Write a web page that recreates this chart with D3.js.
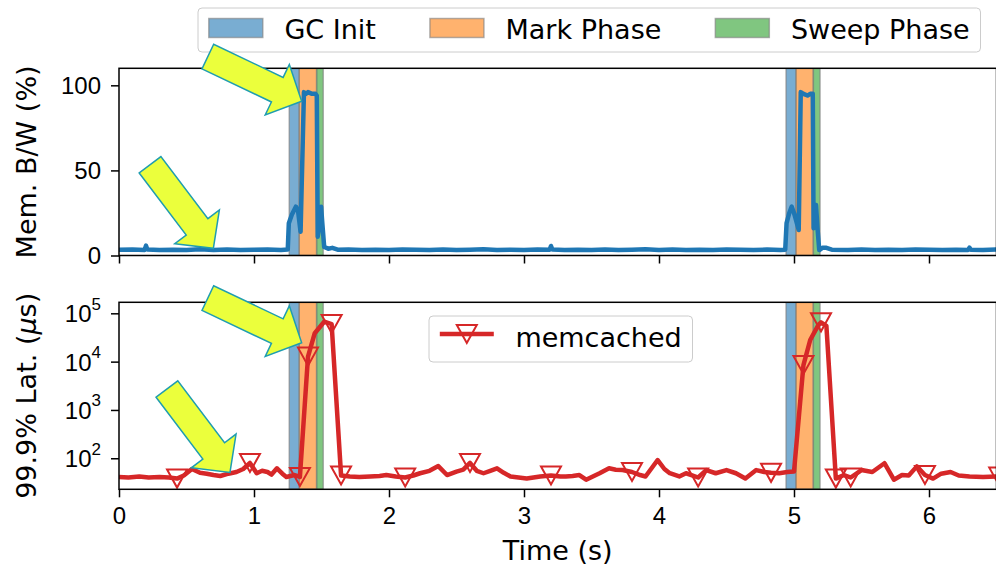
<!DOCTYPE html>
<html>
<head>
<meta charset="UTF-8" />
<script src="https://d3js.org/d3.v7.min.js"></script>
<style>
  body { margin: 0; background: #fff; }
  svg { display: block; font-family: "DejaVu Sans", sans-serif; }
</style>
</head>
<body>
<svg id="chart" width="996" height="566"></svg>
<script>
// GC phase boundaries (s)
const gcStart = [1.261, 4.941];
const markStart = [1.335, 5.015];
const sweepStart = [1.464, 5.143];
const sweepEnd = [1.513, 5.193];
const phaseNames = ["GC Init", "Mark Phase", "Sweep Phase"];

// memory bandwidth (%)
const bwTime = [0, 0.1, 0.19, 0.2, 0.21, 0.3, 0.4, 0.5, 0.6, 0.7, 0.8, 0.9, 1.0, 1.1, 1.2, 1.25,
  1.258, 1.28, 1.31, 1.325, 1.345, 1.37, 1.385, 1.4, 1.43, 1.455, 1.465, 1.472, 1.485, 1.497, 1.505, 1.52, 1.55, 1.58, 1.62,
  1.7, 1.8, 1.9, 2.0, 2.1, 2.2, 2.3, 2.4, 2.5, 2.6, 2.7, 2.8, 2.9, 3.0, 3.1, 3.19, 3.2, 3.21, 3.3, 3.4, 3.5, 3.6, 3.7, 3.8, 3.9,
  4.0, 4.1, 4.2, 4.3, 4.4, 4.5, 4.6, 4.7, 4.8, 4.9, 4.935,
  4.945, 4.965, 4.983, 5.0, 5.035, 5.05, 5.07, 5.1, 5.12, 5.139, 5.145, 5.155, 5.163, 5.175, 5.187, 5.21, 5.24, 5.28,
  5.4, 5.5, 5.6, 5.7, 5.8, 5.9, 6.0, 6.1, 6.2, 6.29, 6.3, 6.31, 6.4, 6.5];
const bwValue = [3.4, 3.5, 3.3, 5.8, 3.5, 3.2, 3.4, 3.3, 3.6, 3.3, 3.5, 3.2, 3.4, 3.5, 3.3, 3.5,
  19, 24, 28.7, 27, 14, 96, 95, 96, 95, 95, 94, 11, 18, 28.7, 20, 5, 4, 4.5, 3.4,
  3.5, 3.3, 3.4, 3.2, 3.5, 3.4, 3.3, 3.5, 3.2, 3.4, 3.6, 3.3, 3.4, 3.2, 3.5, 3.4, 5.6, 3.5, 3.3, 3.4, 3.2, 3.5, 3.3, 3.4, 3.6,
  3.3, 3.5, 3.2, 3.4, 3.3, 3.5, 3.4, 3.2, 3.5, 3.3, 3.4,
  19, 25, 28.7, 25, 15, 96, 95, 94, 95, 95, 16, 22, 29.7, 15, 3.2, 4.5, 4.5, 3.4,
  3.3, 3.5, 3.2, 3.4, 3.3, 3.5, 3.4, 3.2, 3.4, 3.3, 4.6, 3.4, 3.3, 3.5];

// memcached 99.9% latency (us), 1 = marker drawn
const latTime = [0, 0.07, 0.15, 0.22, 0.3, 0.37, 0.43, 0.48, 0.54, 0.6, 0.65, 0.7, 0.75, 0.81, 0.87, 0.92, 0.97,
  1.02, 1.06, 1.1, 1.13, 1.17, 1.21, 1.24, 1.3, 1.34, 1.4, 1.45, 1.52, 1.575, 1.645, 1.71, 1.78, 1.86, 1.93, 1.98,
  2.05, 2.12, 2.18, 2.23, 2.3, 2.365, 2.43, 2.5, 2.55, 2.6, 2.65, 2.7, 2.75, 2.8, 2.85, 2.9, 2.96,
  3.02, 3.07, 3.12, 3.2, 3.27, 3.31, 3.36, 3.41, 3.46, 3.51, 3.56, 3.63, 3.68, 3.73, 3.8, 3.86, 3.9, 3.99,
  4.04, 4.08, 4.15, 4.2, 4.24, 4.29, 4.35, 4.42, 4.5, 4.57, 4.64, 4.72, 4.78, 4.83, 4.89, 4.95,
  5.0, 5.07, 5.12, 5.18, 5.2, 5.24, 5.31, 5.37, 5.42, 5.5, 5.58, 5.67, 5.74, 5.8, 5.85, 5.91, 5.97,
  6.03, 6.09, 6.16, 6.22, 6.3, 6.4, 6.52];
const latValue = [41, 40, 42, 40, 41, 40, 38, 44, 60, 50, 48, 45, 43, 48, 52, 60, 80,
  49, 55, 52, 46, 62, 48, 41, 45, 41, 12700, 38700, 67000, 60000, 44, 42, 41, 42, 43, 45,
  42, 40, 44, 49, 55, 69, 45, 53, 58, 80, 55, 49, 55, 62, 50, 42, 40,
  38, 40, 42, 44, 42, 42, 43, 45, 36, 42, 49, 62, 58, 57, 52, 45, 42, 92,
  60, 49, 42, 49, 45, 40, 57, 49, 57, 49, 38, 57, 52, 50, 49, 52,
  53, 8500, 28000, 57000, 65000, 55000, 38, 45, 40, 57, 52, 79, 36, 45, 44, 68, 45,
  38, 48, 52, 44, 42, 41, 42];
const latMarker = [0, 0, 0, 0, 0, 0, 1, 0, 0, 0, 0, 0, 0, 0, 0, 0, 1,
  0, 0, 0, 0, 0, 0, 0, 0, 1, 1, 0, 0, 1, 1, 0, 0, 0, 0, 0,
  0, 1, 0, 0, 0, 0, 0, 0, 0, 1, 0, 0, 0, 0, 0, 0, 0,
  0, 0, 0, 1, 0, 0, 0, 0, 0, 0, 0, 0, 0, 0, 1, 0, 0, 0,
  0, 0, 0, 0, 0, 1, 0, 0, 0, 0, 0, 0, 0, 1, 0, 0,
  0, 1, 0, 0, 1, 0, 1, 0, 1, 0, 0, 0, 0, 0, 0, 0, 1,
  0, 0, 0, 0, 0, 0, 1];

const xTicks = [0, 1, 2, 3, 4, 5, 6];
const bwTicks = [0, 50, 100];
const latTicks = [1e2, 1e3, 1e4, 1e5];

// highlight arrows: [tail, tip] in data units of each panel
const bwArrows = [[[0.23, 53.3], [0.699, 4.2]], [[0.658, 116.9], [1.353, 90.6]]];
const latArrows = [[[0.658, 2.07e5], [1.353, 2.46e4]], [[0.355, 2716], [0.822, 50.8]]];

const phaseColor = ["#1f77b4", "#ff7f0e", "#2ca02c"];
const tickFont = 24, labelFont = 27;

const svg = d3.select("#chart");
const x = d3.scaleLinear().domain([0, 6.5]).range([119, 996.5]);
const yBw = d3.scaleLinear().domain([0, 110]).range([255.5, 68.3]);
const yLat = d3.scaleLog().domain([22.8, 1.69e5]).range([489.3, 302.3]);

const panels = [
  { id: "bw", y: yBw, top: 68.3, bottom: 255.5 },
  { id: "lat", y: yLat, top: 302.3, bottom: 489.3 },
];

const defs = svg.append("defs");
panels.forEach((p) => {
  defs.append("clipPath").attr("id", "clip-" + p.id)
    .append("rect").attr("x", x.range()[0]).attr("y", p.top)
    .attr("width", x.range()[1] - x.range()[0]).attr("height", p.bottom - p.top);
});

// phase bands
panels.forEach((p) => {
  const g = svg.append("g").attr("clip-path", `url(#clip-${p.id})`);
  gcStart.forEach((s, i) => {
    const edges = [s, markStart[i], sweepStart[i], sweepEnd[i]];
    for (let k = 0; k < 3; k++) {
      g.append("rect")
        .attr("x", x(edges[k])).attr("y", p.top)
        .attr("width", x(edges[k + 1]) - x(edges[k])).attr("height", p.bottom - p.top)
        .attr("fill", phaseColor[k]).attr("fill-opacity", 0.6)
        .attr("stroke", "#7f7f7f").attr("stroke-opacity", 0.6).attr("stroke-width", 1.5);
    }
  });
});

// memory bandwidth line
const bwData = bwTime.map((t, i) => [t, bwValue[i]]);
svg.append("g").attr("clip-path", "url(#clip-bw)")
  .append("path").datum(bwData)
  .attr("fill", "none").attr("stroke", "#1f77b4").attr("stroke-width", 4.5)
  .attr("stroke-linejoin", "round")
  .attr("d", d3.line().x((d) => x(d[0])).y((d) => yBw(d[1])));

// latency line + markers
const latData = latTime.map((t, i) => ({ t, v: latValue[i], m: latMarker[i] }));
const gLat = svg.append("g").attr("clip-path", "url(#clip-lat)");
gLat.append("path").datum(latData)
  .attr("fill", "none").attr("stroke", "#d62728").attr("stroke-width", 4.5)
  .attr("stroke-linejoin", "round")
  .attr("d", d3.line().x((d) => x(d.t)).y((d) => yLat(d.v)));

const tri = (cx, cy) => `M${cx - 10},${cy - 9}L${cx + 10},${cy - 9}L${cx},${cy + 9}Z`;
gLat.selectAll(".mk").data(latData.filter((d) => d.m))
  .enter().append("path").attr("class", "mk")
  .attr("d", (d) => tri(x(d.t), yLat(d.v)))
  .attr("fill", "none").attr("stroke", "#d62728").attr("stroke-width", 2);

// axes
panels.forEach((p, pi) => {
  const xa = svg.append("g").attr("transform", `translate(0,${p.bottom})`)
    .call(d3.axisBottom(x).tickValues(xTicks).tickSize(8).tickSizeOuter(0).tickPadding(10)
      .tickFormat(pi === 1 ? d3.format("d") : () => ""));
  xa.select(".domain").remove();
  xa.selectAll("line").attr("stroke-width", 1.5);
  xa.selectAll("text").attr("font-size", tickFont).attr("fill", "#000");

  const ya = svg.append("g").attr("transform", `translate(${x.range()[0]},0)`)
    .call(d3.axisLeft(p.y).tickValues(pi === 0 ? bwTicks : latTicks).tickSize(8).tickSizeOuter(0).tickPadding(10)
      .tickFormat(pi === 0 ? d3.format("d") : () => ""));
  ya.select(".domain").remove();
  ya.selectAll("line").attr("stroke-width", 1.5);
  ya.selectAll("text").attr("font-size", tickFont).attr("fill", "#000");
  if (pi === 1) {
    ya.selectAll(".tick text").each(function (d) {
      const t = d3.select(this).attr("dy", "0.36em");
      t.append("tspan").text("10");
      t.append("tspan").attr("font-size", 17).attr("dy", "-0.75em").text(Math.round(Math.log10(d)));
    });
  }

  svg.append("rect")
    .attr("x", x.range()[0]).attr("y", p.top)
    .attr("width", x.range()[1] - x.range()[0]).attr("height", p.bottom - p.top)
    .attr("fill", "none").attr("stroke", "#000").attr("stroke-width", 1.5);
});

// axis labels
svg.append("text").attr("transform", `translate(36,${(68.3 + 255.5) / 2}) rotate(-90)`)
  .attr("text-anchor", "middle").attr("font-size", labelFont).text("Mem. B/W (%)");
const latLabel = svg.append("text").attr("transform", `translate(36,${(302.3 + 489.3) / 2}) rotate(-90)`)
  .attr("text-anchor", "middle").attr("font-size", labelFont);
latLabel.append("tspan").text("99.9% Lat. (");
latLabel.append("tspan").attr("font-style", "italic").text("\u03bc");
latLabel.append("tspan").text("s)");
svg.append("text").attr("x", (x.range()[0] + x.range()[1]) / 2).attr("y", 560)
  .attr("text-anchor", "middle").attr("font-size", labelFont).text("Time (s)");

// top legend (phases)
const pad = 10.8, handleW = 54, handleH = 19, textPad = 21.6, colGap = 54;
const legTop = svg.append("g");
const legBox = legTop.append("rect");
let cx = 198 + pad;
phaseNames.forEach((name, k) => {
  legTop.append("rect").attr("x", cx).attr("y", 8 + 20 - handleH / 2)
    .attr("width", handleW).attr("height", handleH)
    .attr("fill", phaseColor[k]).attr("fill-opacity", 0.6)
    .attr("stroke", "#7f7f7f").attr("stroke-opacity", 0.6).attr("stroke-width", 1.5);
  cx += handleW + textPad;
  const t = legTop.append("text").attr("x", cx).attr("y", 8 + 31)
    .attr("font-size", labelFont).text(name);
  cx += t.node().getComputedTextLength() + (k < 2 ? colGap : 0);
});
legBox.attr("x", 198).attr("y", 8).attr("width", cx + pad - 198).attr("height", 44)
  .attr("rx", 4).attr("fill", "#fff").attr("fill-opacity", 0.8)
  .attr("stroke", "#cccccc").attr("stroke-width", 1);

// bottom legend (memcached)
const legBot = svg.append("g");
const lbBox = legBot.append("rect");
const lbx = 429, lby = 316;
legBot.append("line").attr("x1", lbx + pad).attr("x2", lbx + pad + handleW)
  .attr("y1", lby + 18).attr("y2", lby + 18)
  .attr("stroke", "#d62728").attr("stroke-width", 4.5);
legBot.append("path").attr("d", tri(lbx + pad + handleW / 2, lby + 18))
  .attr("fill", "none").attr("stroke", "#d62728").attr("stroke-width", 2);
const lbt = legBot.append("text").attr("x", lbx + pad + handleW + textPad).attr("y", lby + 31)
  .attr("font-size", labelFont).text("memcached");
lbBox.attr("x", lbx).attr("y", lby)
  .attr("width", pad * 2 + handleW + textPad + lbt.node().getComputedTextLength()).attr("height", 46)
  .attr("rx", 4).attr("fill", "#fff").attr("fill-opacity", 0.8)
  .attr("stroke", "#cccccc").attr("stroke-width", 1);

// arrows
function arrowPoints(p0, p1) {
  const dx = p1[0] - p0[0], dy = p1[1] - p0[1];
  const L = Math.hypot(dx, dy), ux = dx / L, uy = dy / L, px = -uy, py = ux;
  const sw = 13.6, hw = 28, hl = 27, b = L - hl;
  const pt = (a, s) => [p0[0] + ux * a + px * s, p0[1] + uy * a + py * s];
  return [pt(0, sw), pt(b, sw), pt(b, hw), p1, pt(b, -hw), pt(b, -sw), pt(0, -sw)];
}
const arrows = [
  ...bwArrows.map((a) => a.map((d) => [x(d[0]), yBw(d[1])])),
  ...latArrows.map((a) => a.map((d) => [x(d[0]), yLat(d[1])])),
];
svg.selectAll(".arrow").data(arrows).enter().append("polygon").attr("class", "arrow")
  .attr("points", (a) => arrowPoints(a[0], a[1]).map((q) => q.join(",")).join(" "))
  .attr("fill", "#ebff3c").attr("stroke", "#1f9db0").attr("stroke-width", 1.5)
  .attr("stroke-linejoin", "miter");
</script>
</body>
</html>
